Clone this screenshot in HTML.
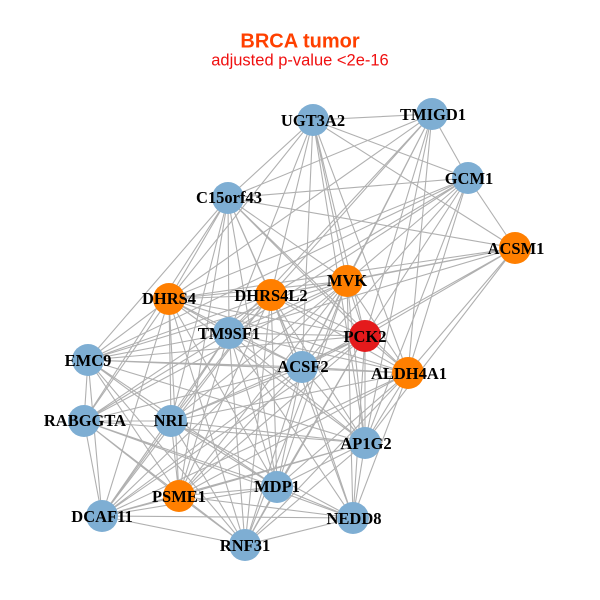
<!DOCTYPE html>
<html><head><meta charset="utf-8"><style>
html,body{margin:0;padding:0;background:#fff}
svg{display:block}
.n{font:bold 16.5px "Liberation Serif",serif;fill:#000;text-anchor:middle}
</style></head><body>
<svg width="600" height="600" viewBox="0 0 600 600" xmlns="http://www.w3.org/2000/svg">
<rect width="600" height="600" fill="#fff"/>
<g fill="none" stroke="#b0b0b0" stroke-width="1.1">
<path d="M313 120L432 114 313 120 468 178 313 120 515 248 313 120 228 198 313 120 169 299 313 120 271 295 313 120 347 281 313 120 229 333 313 120 302 367 313 120 365 336 313 120 408 373 313 120 365 443"/>
<path d="M432 114L468 178 432 114 228 198 432 114 347 281 432 114 271 295 432 114 169 299 432 114 229 333 432 114 365 336 432 114 302 367 432 114 408 373 432 114 365 443"/>
<path d="M468 178L515 248 468 178 228 198 468 178 347 281 468 178 271 295 468 178 169 299 468 178 229 333 468 178 365 336 468 178 302 367 468 178 408 373 468 178 365 443 468 178 88 360"/>
<path d="M228 198L515 248 228 198 347 281 228 198 271 295 228 198 169 299 228 198 229 333 228 198 365 336 228 198 302 367 228 198 408 373 228 198 88 360 228 198 171 421 228 198 84 421 228 198 277 487 228 198 179 496"/>
<path d="M515 248L347 281 515 248 271 295 515 248 169 299 515 248 229 333 515 248 365 336 515 248 302 367 515 248 408 373 515 248 365 443"/>
<path d="M347 281L271 295 347 281 169 299 347 281 229 333 347 281 365 336 347 281 302 367 347 281 408 373 347 281 88 360 347 281 84 421 347 281 171 421 347 281 365 443 347 281 277 487 347 281 179 496 347 281 102 516 347 281 353 518 347 281 245 545"/>
<path d="M271 295L169 299 271 295 229 333 271 295 365 336 271 295 302 367 271 295 408 373 271 295 88 360 271 295 84 421 271 295 171 421 271 295 365 443 271 295 277 487 271 295 179 496 271 295 102 516 271 295 353 518 271 295 245 545"/>
<path d="M169 299L229 333 169 299 365 336 169 299 302 367 169 299 408 373 169 299 88 360 169 299 84 421 169 299 171 421 169 299 365 443 169 299 277 487 169 299 179 496 169 299 102 516 169 299 245 545"/>
<path d="M229 333L365 336 229 333 302 367 229 333 408 373 229 333 88 360 229 333 84 421 229 333 171 421 229 333 365 443 229 333 277 487 229 333 179 496 229 333 102 516 229 333 353 518 229 333 245 545"/>
<path d="M365 336L302 367 365 336 408 373 365 336 88 360 365 336 171 421 365 336 365 443 365 336 277 487 365 336 179 496 365 336 102 516 365 336 353 518 365 336 245 545"/>
<path d="M88 360L302 367 88 360 408 373 88 360 84 421 88 360 171 421 88 360 365 443 88 360 277 487 88 360 179 496 88 360 102 516 88 360 245 545"/>
<path d="M302 367L408 373 302 367 84 421 302 367 171 421 302 367 365 443 302 367 277 487 302 367 179 496 302 367 102 516 302 367 353 518 302 367 245 545"/>
<path d="M408 373L171 421 408 373 365 443 408 373 277 487 408 373 179 496 408 373 102 516 408 373 353 518 408 373 245 545"/>
<path d="M84 421L171 421 84 421 365 443 84 421 277 487 84 421 179 496 84 421 102 516 84 421 353 518 84 421 245 545"/>
<path d="M171 421L365 443 171 421 277 487 171 421 179 496 171 421 102 516 171 421 353 518 171 421 245 545"/>
<path d="M365 443L277 487 365 443 179 496 365 443 102 516 365 443 353 518 365 443 245 545"/>
<path d="M277 487L179 496 277 487 102 516 277 487 353 518 277 487 245 545"/>
<path d="M179 496L102 516 179 496 353 518 179 496 245 545"/>
<path d="M102 516L353 518 102 516 245 545"/>
<path d="M353 518L245 545"/>
</g>
<g fill="#7eaed3">
<circle cx="313" cy="120" r="16"/><circle cx="432" cy="114" r="16"/><circle cx="468" cy="178" r="16"/><circle cx="228" cy="198" r="16"/>
<circle cx="229" cy="333" r="16"/><circle cx="88" cy="360" r="16"/><circle cx="302" cy="367" r="16"/><circle cx="84" cy="421" r="16"/>
<circle cx="171" cy="421" r="16"/><circle cx="365" cy="443" r="16"/><circle cx="277" cy="487" r="16"/><circle cx="102" cy="516" r="16"/>
<circle cx="353" cy="518" r="16"/><circle cx="245" cy="545" r="16"/>
</g>
<g fill="#ff7f00">
<circle cx="515" cy="248" r="16"/><circle cx="347" cy="281" r="16"/><circle cx="271" cy="295" r="16"/><circle cx="169" cy="299" r="16"/>
<circle cx="408" cy="373" r="16"/><circle cx="179" cy="496" r="16"/>
</g>
<circle cx="365" cy="336" r="16" fill="#e41a1c"/>
<g>
<text class="n" x="313" y="126">UGT3A2</text>
<text class="n" x="433" y="120">TMIGD1</text>
<text class="n" x="469" y="184">GCM1</text>
<text class="n" x="229" y="203">C15orf43</text>
<text class="n" x="516" y="254">ACSM1</text>
<text class="n" x="347" y="286">MVK</text>
<text class="n" x="271" y="301">DHRS4L2</text>
<text class="n" x="169" y="304">DHRS4</text>
<text class="n" x="229" y="339">TM9SF1</text>
<text class="n" x="365" y="342">PCK2</text>
<text class="n" x="88" y="366">EMC9</text>
<text class="n" x="303" y="372">ACSF2</text>
<text class="n" x="409" y="379">ALDH4A1</text>
<text class="n" x="85" y="426">RABGGTA</text>
<text class="n" x="171" y="426">NRL</text>
<text class="n" x="366" y="449">AP1G2</text>
<text class="n" x="277" y="492">MDP1</text>
<text class="n" x="179" y="502">PSME1</text>
<text class="n" x="102" y="522">DCAF11</text>
<text class="n" x="354" y="524">NEDD8</text>
<text class="n" x="245" y="551">RNF31</text>
</g>
<text x="300" y="47.5" text-anchor="middle" style="font:bold 20px 'Liberation Sans',sans-serif" fill="#ff4000">BRCA tumor</text>
<text x="300" y="65.5" text-anchor="middle" style="font:16.5px 'Liberation Sans',sans-serif" fill="#f01010">adjusted p-value &lt;2e-16</text>
</svg>
</body></html>
